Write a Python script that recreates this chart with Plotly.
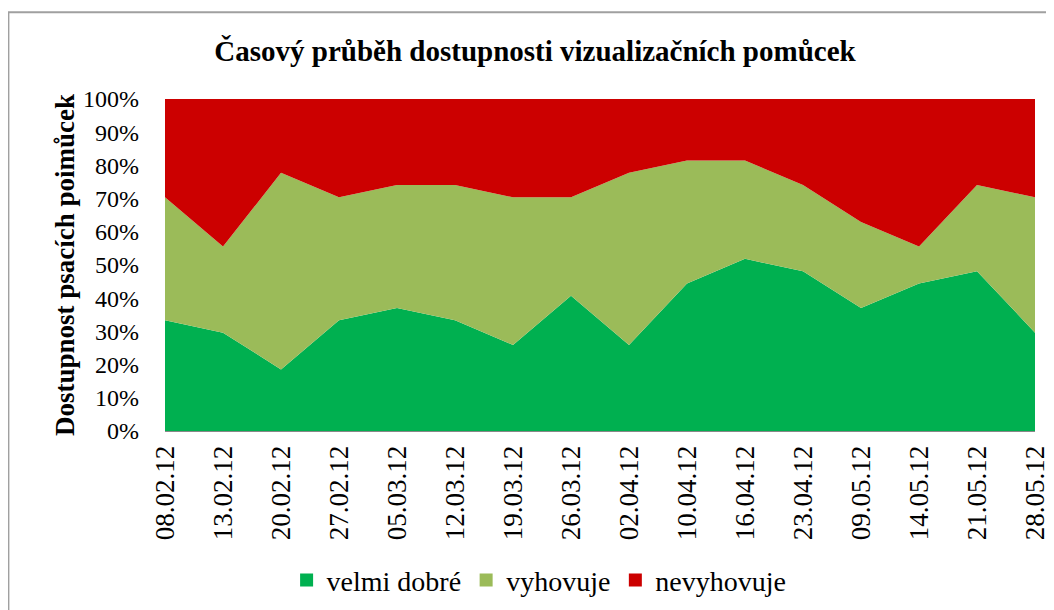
import plotly.graph_objects as go

dates = ["08.02.12", "13.02.12", "20.02.12", "27.02.12", "05.03.12", "12.03.12",
         "19.03.12", "26.03.12", "02.04.12", "10.04.12", "16.04.12", "23.04.12",
         "09.05.12", "14.05.12", "21.05.12", "28.05.12"]
# counts of answers per day (27 respondents)
velmi_dobre = [9, 8, 5, 9, 10, 9, 7, 11, 7, 12, 14, 13, 10, 12, 13, 8]
vyhovuje = [10, 7, 16, 10, 10, 11, 12, 8, 14, 10, 8, 7, 7, 3, 7, 11]
nevyhovuje = [8, 12, 6, 8, 7, 7, 8, 8, 6, 5, 5, 7, 10, 12, 7, 8]

series = [("velmi dobré", velmi_dobre, "#00B050"),
          ("vyhovuje", vyhovuje, "#9BBB59"),
          ("nevyhovuje", nevyhovuje, "#CC0000")]

font = "Liberation Serif"

fig = go.Figure()
for name, vals, col in series:
    fig.add_trace(go.Scatter(
        x=dates, y=vals, name=name, mode="lines",
        stackgroup="one", groupnorm="percent", showlegend=False,
        line=dict(width=0, color=col), fillcolor=col))
# square legend keys
for name, vals, col in series:
    fig.add_trace(go.Scatter(
        x=[None], y=[None], name=name, mode="markers",
        marker=dict(symbol="square", size=13, color=col)))

fig.update_layout(
    width=1054, height=610,
    paper_bgcolor="white", plot_bgcolor="white",
    margin=dict(l=157, r=25, t=91, b=186),
    font=dict(family=font, size=24, color="black"),
    title=dict(text="<b>Časový průběh dostupnosti vizualizačních pomůcek</b>",
               x=0.5, xanchor="center", y=0.93, yanchor="middle",
               font=dict(size=29, family=font)),
    showlegend=True,
    legend=dict(orientation="h", x=0.43, xanchor="center", y=-0.45, yanchor="middle",
                font=dict(size=28, family=font), traceorder="normal",
                itemwidth=30, tracegroupgap=0),
    xaxis=dict(type="category", range=[0, len(dates) - 1], tickangle=-90,
               showgrid=False, showline=True, linecolor="#888888", linewidth=1,
               ticks="", ticklabelstandoff=3, tickfont=dict(size=27, family=font)),
    yaxis=dict(range=[0, 100], dtick=10, ticksuffix="%", showgrid=False,
               showline=False, ticks="", ticklabelstandoff=25,
               tickfont=dict(size=24, family=font),
               title=dict(text="<b>Dostupnost psacích poimůcek</b>",
                          font=dict(size=27, family=font), standoff=0)),
)
fig.add_shape(type="rect", xref="paper", yref="paper", x0=-0.18, x1=1.05,
              y0=-0.65, y1=1.261, line=dict(color="#A0A0A0", width=2))

fig.write_html("out.html")
